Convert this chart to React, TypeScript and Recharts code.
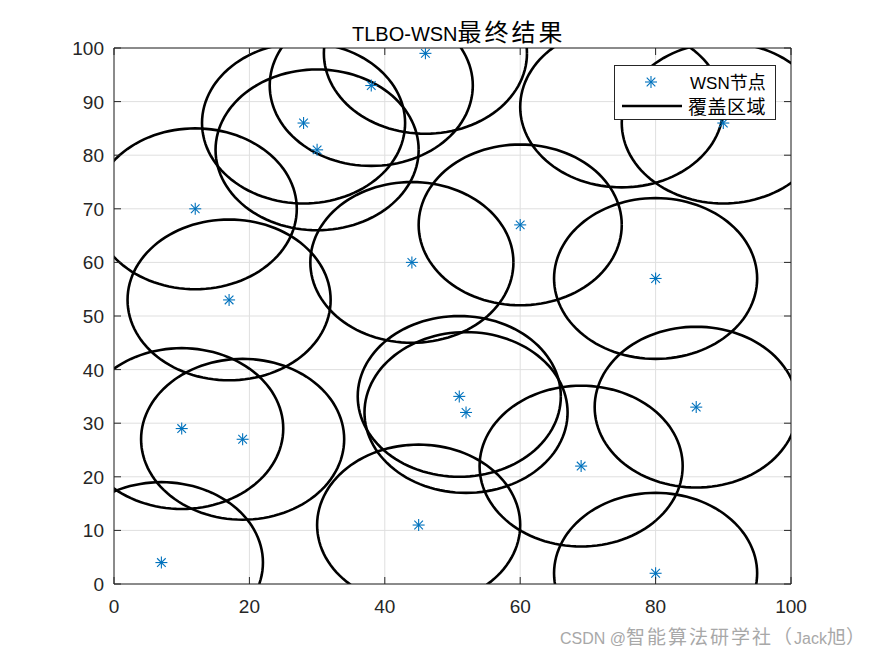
import { CartesianGrid, ComposedChart, Line, ReferenceLine, Scatter, XAxis, YAxis } from 'recharts';

// sensor node positions
const nodeX = [7, 10, 19, 17, 12, 28, 30, 38, 46, 44, 60, 51, 52, 45, 69, 80, 80, 86, 90, 75];
const nodeY = [4, 29, 27, 53, 70, 86, 81, 93, 99, 60, 67, 35, 32, 11, 22, 2, 57, 33, 86, 89];
const radius = 15;
const xTicks = [0, 20, 40, 60, 80, 100];
const yTicks = [0, 10, 20, 30, 40, 50, 60, 70, 80, 90, 100];

const nodes = nodeX.map((x, i) => ({ x, y: nodeY[i] }));

// coverage circle outline for each node
const circles = nodes.map((n) => {
  const pts = [];
  for (let k = 0; k <= 120; k++) {
    const t = (k / 120) * Math.PI * 2;
    pts.push({ x: n.x + radius * Math.cos(t), y: n.y + radius * Math.sin(t) });
  }
  return pts;
});

const TOP = 48;
const BOTTOM = 584;
const LEFT = 114;
const RIGHT = 791;
const AXIS = '#262626';
const FONT = '"Liberation Sans", Arial, sans-serif';
const CJK = '"Noto Sans CJK SC", sans-serif';

const Star = (props: any) => {
  const { cx, cy } = props;
  if (cx == null || cy == null) return <g />;
  const r = 6;
  const d = r * 0.72;
  return (
    <g stroke="#0072BD" strokeWidth={1.1}>
      <line x1={cx - r} y1={cy} x2={cx + r} y2={cy} />
      <line x1={cx} y1={cy - r} x2={cx} y2={cy + r} />
      <line x1={cx - d} y1={cy - d} x2={cx + d} y2={cy + d} />
      <line x1={cx - d} y1={cy + d} x2={cx + d} y2={cy - d} />
    </g>
  );
};

const XTick = (props: any) => {
  const { x, payload } = props;
  return (
    <g>
      <line x1={x} y1={BOTTOM} x2={x} y2={BOTTOM - 7} stroke={AXIS} />
      <line x1={x} y1={TOP} x2={x} y2={TOP + 7} stroke={AXIS} />
      <text x={x} y={BOTTOM + 29} textAnchor="middle" fill={AXIS} fontSize={19} fontFamily={FONT}>
        {payload.value}
      </text>
    </g>
  );
};

const YTick = (props: any) => {
  const { y, payload } = props;
  return (
    <g>
      <line x1={LEFT} y1={y} x2={LEFT + 7} y2={y} stroke={AXIS} />
      <line x1={RIGHT} y1={y} x2={RIGHT - 7} y2={y} stroke={AXIS} />
      <text x={LEFT - 10} y={y + 7} textAnchor="end" fill={AXIS} fontSize={19} fontFamily={FONT}>
        {payload.value}
      </text>
    </g>
  );
};

const LegendBox = () => (
  <div
    style={{
      position: 'absolute',
      left: 614,
      top: 65,
      width: 160,
      height: 53,
      border: '1px solid #262626',
      background: '#fff',
      fontFamily: FONT,
      fontSize: 17,
      color: '#000',
      whiteSpace: 'nowrap',
    }}
  >
    <svg width={70} height={53} style={{ position: 'absolute', left: 0, top: 0 }}>
      <Star cx={36} cy={16} />
      <line x1={7} y1={40} x2={67} y2={40} stroke="#000" strokeWidth={2.5} />
    </svg>
    <div style={{ position: 'absolute', left: 75, top: 5, height: 20, lineHeight: '20px' }}>
      WSN<span style={{ fontFamily: CJK, fontSize: 18, lineHeight: '20px' }}>节点</span>
    </div>
    <div
      style={{
        position: 'absolute',
        left: 73,
        top: 30,
        height: 20,
        lineHeight: '20px',
        fontFamily: CJK,
        fontSize: 19,
        letterSpacing: 0.5,
      }}
    >
      覆盖区域
    </div>
  </div>
);

export default function App() {
  return (
    <div style={{ position: 'absolute', left: 0, top: 0, width: 875, height: 656, background: '#fff' }}>
      <div
        style={{
          position: 'absolute',
          left: 352,
          top: 17,
          fontFamily: FONT,
          fontSize: 20,
          lineHeight: '28px',
          color: '#000',
          whiteSpace: 'nowrap',
        }}
      >
        TLBO-WSN<span style={{ fontFamily: CJK, fontSize: 24, letterSpacing: 3 }}>最终结果</span>
      </div>
      <ComposedChart
        width={875}
        height={656}
        margin={{ top: TOP, right: 875 - RIGHT, bottom: 0, left: 0 }}
      >
        <CartesianGrid stroke="#dfdfdf" strokeWidth={1} />
        <XAxis
          type="number"
          dataKey="x"
          domain={[0, 100]}
          ticks={xTicks}
          allowDataOverflow
          height={656 - BOTTOM}
          stroke={AXIS}
          tickLine={false}
          tick={<XTick />}
        />
        <YAxis
          type="number"
          dataKey="y"
          domain={[0, 100]}
          ticks={yTicks}
          allowDataOverflow
          width={LEFT}
          stroke={AXIS}
          tickLine={false}
          tick={<YTick />}
        />
        <ReferenceLine x={100} stroke={AXIS} />
        <ReferenceLine y={100} stroke={AXIS} />
        {circles.map((c, i) => (
          <Line
            key={i}
            data={c}
            dataKey="y"
            type="linear"
            stroke="#000"
            strokeWidth={2.6}
            dot={false}
            activeDot={false}
            isAnimationActive={false}
            legendType="none"
          />
        ))}
        <Scatter data={nodes} dataKey="y" shape={<Star />} isAnimationActive={false} />
      </ComposedChart>
      <LegendBox />
      <div
        style={{
          position: 'absolute',
          left: 560,
          top: 624,
          fontFamily: FONT,
          fontSize: 16,
          lineHeight: '24px',
          color: '#a8a8a8',
          whiteSpace: 'nowrap',
        }}
      >
        CSDN @<span style={{ fontFamily: CJK, fontSize: 19, letterSpacing: 2 }}>智能算法研学社（</span>
        Jack<span style={{ fontFamily: CJK, fontSize: 19 }}>旭）</span>
      </div>
    </div>
  );
}
